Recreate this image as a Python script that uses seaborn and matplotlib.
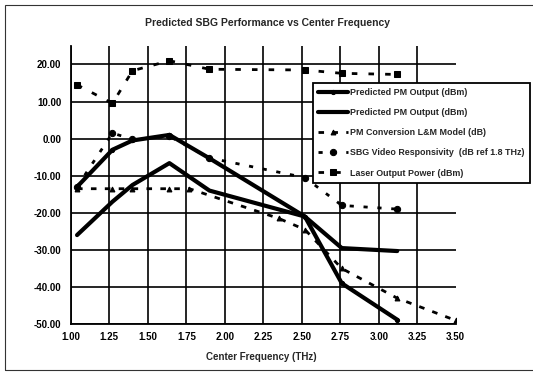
import matplotlib
matplotlib.use("Agg")
import matplotlib.pyplot as plt
import seaborn as sns
from matplotlib.patches import Rectangle

# values
freq = [1.04, 1.27, 1.40, 1.64, 1.90, 2.52, 2.76, 3.12]
pm_output_a = [-13.0, -3.0, -0.5, 1.0, -5.3, -21.0, -39.0, -48.8]
pm_output_b = [-26.0, -17.0, -12.5, -6.6, -14.0, -21.0, -29.5, -30.3]
sbg_video = [-13.0, 1.5, -0.2, 0.6, -5.2, -10.5, -18.0, -19.0]
laser_power = [14.5, 9.5, 18.3, 21.0, 18.7, 18.5, 17.6, 17.3]

freq_model = [1.04, 1.27, 1.40, 1.64, 1.77, 2.35, 2.52, 2.76, 3.12, 3.50]
pm_model = [-13.5, -13.5, -13.5, -13.5, -13.5, -21.5, -24.5, -35.0, -43.0, -49.0]

x_ticks = [1.00, 1.25, 1.50, 1.75, 2.00, 2.25, 2.50, 2.75, 3.00, 3.25, 3.50]
y_ticks = [-50, -40, -30, -20, -10, 0, 10, 20]

sns.set_theme(style="white")
plt.rcParams["font.family"] = ["Liberation Sans", "DejaVu Sans"]

fig, ax = plt.subplots(figsize=(5.33, 3.73), dpi=100)
fig.subplots_adjust(left=0.133, right=0.855, top=0.877, bottom=0.131)

mk = dict(markeredgecolor="black", markerfacecolor="black")

# main series
sns.lineplot(x=freq, y=pm_output_a, ax=ax, sort=False, color="black", linewidth=3,
             marker="o", markersize=3, label="Predicted PM Output (dBm)", zorder=4, **mk)
sns.lineplot(x=freq, y=pm_output_b, ax=ax, sort=False, color="black", linewidth=3,
             label="Predicted PM Output (dBm)", zorder=4)
sns.lineplot(x=freq_model, y=pm_model, ax=ax, sort=False, color="black", linewidth=2,
             linestyle=(0, (2.0, 3.0)), marker="^", markersize=3.5,
             label="PM Conversion L&M Model (dB)", zorder=3, **mk)
sns.lineplot(x=freq, y=sbg_video, ax=ax, sort=False, color="black", linewidth=2,
             linestyle=(0, (1.5, 3.5)), marker="o", markersize=4.5,
             label="SBG Video Responsivity  (dB ref 1.8 THz)", zorder=3, **mk)
sns.lineplot(x=freq, y=laser_power, ax=ax, sort=False, color="black", linewidth=2,
             linestyle=(0, (2.0, 4.0)), marker="s", markersize=5,
             label="Laser Output Power (dBm)", zorder=3, **mk)

ax.set_xlim(1.0, 3.5)
ax.set_ylim(-50, 25)
ax.set_xticks(x_ticks)
ax.set_yticks(y_ticks)
ax.set_xticklabels([f"{t:.2f}" for t in x_ticks], fontsize=7, fontweight="bold")
ax.set_yticklabels([f"{t:.2f}" for t in y_ticks], fontsize=7, fontweight="bold")
ax.tick_params(axis="x", direction="inout", length=4, width=1, pad=4, colors="black")
ax.tick_params(axis="y", direction="out", length=3, width=1, pad=4, colors="black")

ax.grid(True, color="black", linewidth=1.2)
ax.get_xgridlines()[-1].set_visible(False)
for side in ["top", "right"]:
    ax.spines[side].set_visible(False)
for side in ["left", "bottom"]:
    ax.spines[side].set_color("black")
    ax.spines[side].set_linewidth(1.3)

ax.set_xlabel("Center Frequency (THz)", fontsize=7, fontweight="bold")
ax.xaxis.set_label_coords(0.496, -0.10)
ax.set_ylabel("")

fig.text(0.501, 0.938, "Predicted SBG Performance vs Center Frequency",
         ha="center", va="center", fontsize=7.5, fontweight="bold")

leg = ax.legend(loc="upper left", bbox_to_anchor=(0.578, 0.790),
                bbox_transform=fig.transFigure, fontsize=6.4, frameon=True,
                fancybox=False, edgecolor="black", framealpha=1,
                handlelength=3.4, labelspacing=1.25, borderpad=0.6, handletextpad=0.2)
leg.get_frame().set_linewidth(1.3)
for t in leg.get_texts():
    t.set_fontweight("bold")
leg.set_zorder(10)

# page border from the scan
fig.patches.append(Rectangle((5 / 533, 1 - 370 / 373), 1.0, 365 / 373,
                             transform=fig.transFigure, fill=False,
                             edgecolor="#333333", linewidth=0.8))

fig.savefig("out.png", dpi=100)
